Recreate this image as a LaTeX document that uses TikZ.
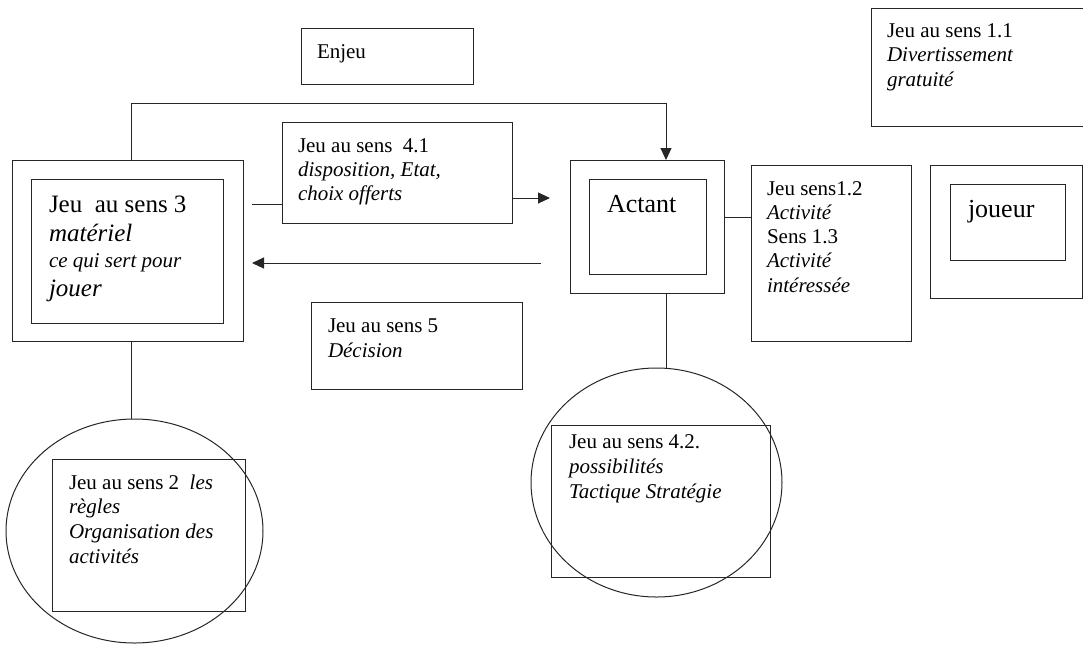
\documentclass[tikz,border=0pt]{standalone}
\usepackage{fontspec}
\setmainfont{Liberation Serif}
\usetikzlibrary{arrows.meta,shapes.geometric}
\begin{document}
\begin{tikzpicture}[x=1pt,y=-1pt,
  box/.style={draw=black!85, line width=1pt, inner sep=0pt, outer sep=0pt},
  oval/.style={box, ellipse},
  txt/.style={anchor=base west, inner sep=0pt, outer sep=0pt, font=\fontsize{21}{24.5}\selectfont},
  con/.style={draw=black!85, line width=1pt},
  arr/.style={con, -{Triangle[length=12pt,width=11pt]}}]
\useasboundingbox (0,0) rectangle (1083,646);
\clip (0,0) rectangle (1083,646);

% boxes
\node[box, minimum width=172pt, minimum height=56pt] (enj) at (387,56) {};
\node[box, minimum width=230pt, minimum height=118pt] (b11) at (986,67) {};
\node[box, minimum width=231pt, minimum height=181pt] (b3o) at (127.5,250.5) {};
\node[box, minimum width=192pt, minimum height=144pt] (b3i) at (127,251) {};
\node[box, minimum width=230pt, minimum height=101pt] (b41) at (397,172.5) {};
\node[box, minimum width=211pt, minimum height=87pt] (b5) at (416.5,345.5) {};
\node[box, minimum width=154pt, minimum height=133pt] (acto) at (647,226.5) {};
\node[box, minimum width=117pt, minimum height=95pt] (acti) at (647.5,226.5) {};
\node[box, minimum width=160pt, minimum height=176pt] (b12) at (831,253) {};
\node[box, minimum width=152pt, minimum height=133pt] (jo) at (1006,231.5) {};
\node[box, minimum width=115pt, minimum height=76pt] (ji) at (1007.5,222) {};
\node[box, minimum width=193pt, minimum height=152pt] (b2) at (148.5,535) {};
\node[box, minimum width=219pt, minimum height=152pt] (b42) at (660.5,501) {};
\node[oval, minimum width=257pt, minimum height=224pt] (e1) at (134.5,531) {};
\node[oval, minimum width=251pt, minimum height=229pt] (e2) at (656.5,482.5) {};

% texts
\node[txt] (tenj) at (317,58) {Enjeu};
\node[txt] (t11) at (887,37) {\vtop{\hbox{Jeu au sens 1.1}\hbox{\itshape Divertissement}\hbox{\itshape gratuité}}};
\node[txt] (t3) at (49,212) {\vtop{\fontsize{25}{29}\selectfont
  \hbox{Jeu\ \ au sens 3}\hbox{\itshape matériel}%
  \baselineskip=26pt\hbox{\fontsize{21}{26}\selectfont\itshape ce qui sert pour}%
  \baselineskip=29pt\hbox{\itshape jouer}}};
\node[txt] (t41) at (298,152) {\vtop{\baselineskip=24pt\hbox{Jeu au sens\ \ 4.1}\hbox{\itshape disposition, Etat,}\hbox{\itshape choix offerts}}};
\node[txt] (t5) at (328,332) {\vtop{\baselineskip=25pt\hbox{Jeu au sens 5}\hbox{\itshape Décision}}};
\node[txt, font=\fontsize{26}{30}\selectfont] (tact) at (607,212) {Actant};
\node[txt] (t12) at (767,195) {\vtop{\baselineskip=24.3pt\hbox{Jeu sens1.2}\hbox{\itshape Activité}\hbox{Sens 1.3}\hbox{\itshape Activité}\hbox{\itshape intéressée}}};
\node[txt, font=\fontsize{26}{30}\selectfont] (tjo) at (968,217) {joueur};
\node[txt] (t2) at (69,489) {\vtop{\baselineskip=24.7pt\hbox{Jeu au sens 2\ \ \itshape les}\hbox{\itshape règles}\hbox{\itshape Organisation des}\hbox{\itshape activités}}};
\node[txt] (t42) at (569,448) {\vtop{\baselineskip=25pt\hbox{Jeu au sens 4.2.}\hbox{\itshape possibilités}\hbox{\itshape Tactique Stratégie}}};

% connectors
\coordinate (c1) at (131,103);
\coordinate (c2) at (666,103);
\draw[arr] (c1 |- b3o.north) -- (c1) -- (c2) -- (c2 |- acto.north);
\coordinate (s1) at (252,204);
\draw[con] (s1) -- (s1 -| b41.west);
\coordinate (a1) at (550,198);
\draw[arr] (a1 -| b41.east) -- (a1);
\coordinate (a2s) at (541,263);
\coordinate (a2e) at (252,263);
\draw[arr] (a2s) -- (a2e);
\coordinate (r1) at (0,217);
\draw[con] (acto.east |- r1) -- (b12.west |- r1);
\draw[con] (c2 |- acto.south) -- (c2 |- e2.north);
\draw[con] (c1 |- b3o.south) -- (c1 |- e1.north);
\end{tikzpicture}
\end{document}
